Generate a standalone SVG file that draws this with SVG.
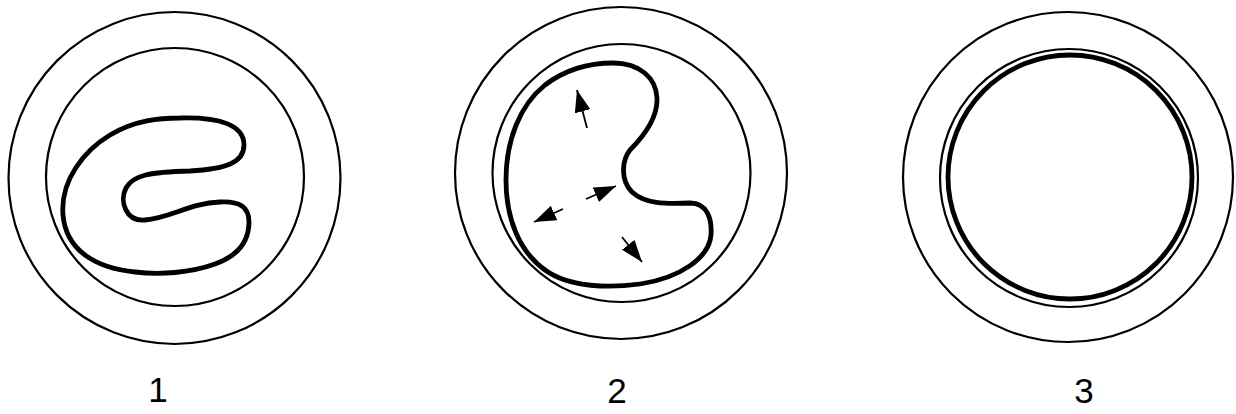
<svg xmlns="http://www.w3.org/2000/svg" width="1236" height="414" viewBox="0 0 1236 414">
<style>
.thin{fill:none;stroke:#000;stroke-width:2.2}
.thick{fill:none;stroke:#000;stroke-width:4.8;stroke-linejoin:round}
.arr{fill:none;stroke:#000;stroke-width:1.8}
.lbl{font-family:"Liberation Sans",Arial,sans-serif;font-size:35px;fill:#000;text-anchor:middle}
</style>
<defs>
<marker id="ah" markerUnits="userSpaceOnUse" markerWidth="24" markerHeight="18" refX="22" refY="8" orient="auto">
<path d="M0,0 L22,8 L0,16 z" fill="#000"/>
</marker>
</defs>
<rect width="1236" height="414" fill="#fff"/>
<g id="cell1">
<circle class="thin" cx="174.5" cy="178" r="166"/>
<circle class="thin" cx="175" cy="177" r="129"/>
<path class="thick" d="M180 118 C220 117 244 125 244 145 C244 163 225 169 190 171 C150 172 133 175 126 188 C119 201 126 222 145 220 C170 218 190 203 220 202 C240 201 249 207 249 222 C249 240 240 255 215 264 C190 273 160 275 135 272 C95 268 66 250 63 215 C60 180 85 150 110 135 C135 120 160 118 180 118 Z"/>
<text class="lbl" x="158" y="402">1</text>
</g>
<g id="cell2">
<circle class="thin" cx="621" cy="173" r="166"/>
<circle class="thin" cx="621.5" cy="173" r="129"/>
<path class="thick" d="M613 63 C640 63 656 78 657 98 C658 120 640 140 630 150 C622 160 620 180 632 192 C645 204 665 204 690 203 C708 203 712 220 711 235 C709 258 680 278 640 284 C610 288 570 288 545 270 C520 252 506 220 506 180 C506 140 520 105 545 85 C570 66 595 63 613 63 Z"/>
<text class="lbl" x="617" y="403">2</text>
</g>
<g id="cell3">
<circle class="thin" cx="1068" cy="177" r="165"/>
<circle class="thin" cx="1069" cy="178" r="129"/>
<circle class="thick" cx="1070" cy="177" r="122"/>
<text class="lbl" x="1084" y="403">3</text>
</g>
<g id="connectors">
<line class="arr" x1="587" y1="128" x2="577" y2="90" marker-end="url(#ah)"/>
<line class="arr" x1="586" y1="199" x2="616" y2="186" marker-end="url(#ah)"/>
<line class="arr" x1="563" y1="209" x2="534" y2="222" marker-end="url(#ah)"/>
<line class="arr" x1="622" y1="237" x2="642" y2="262" marker-end="url(#ah)"/>
</g>
</svg>
